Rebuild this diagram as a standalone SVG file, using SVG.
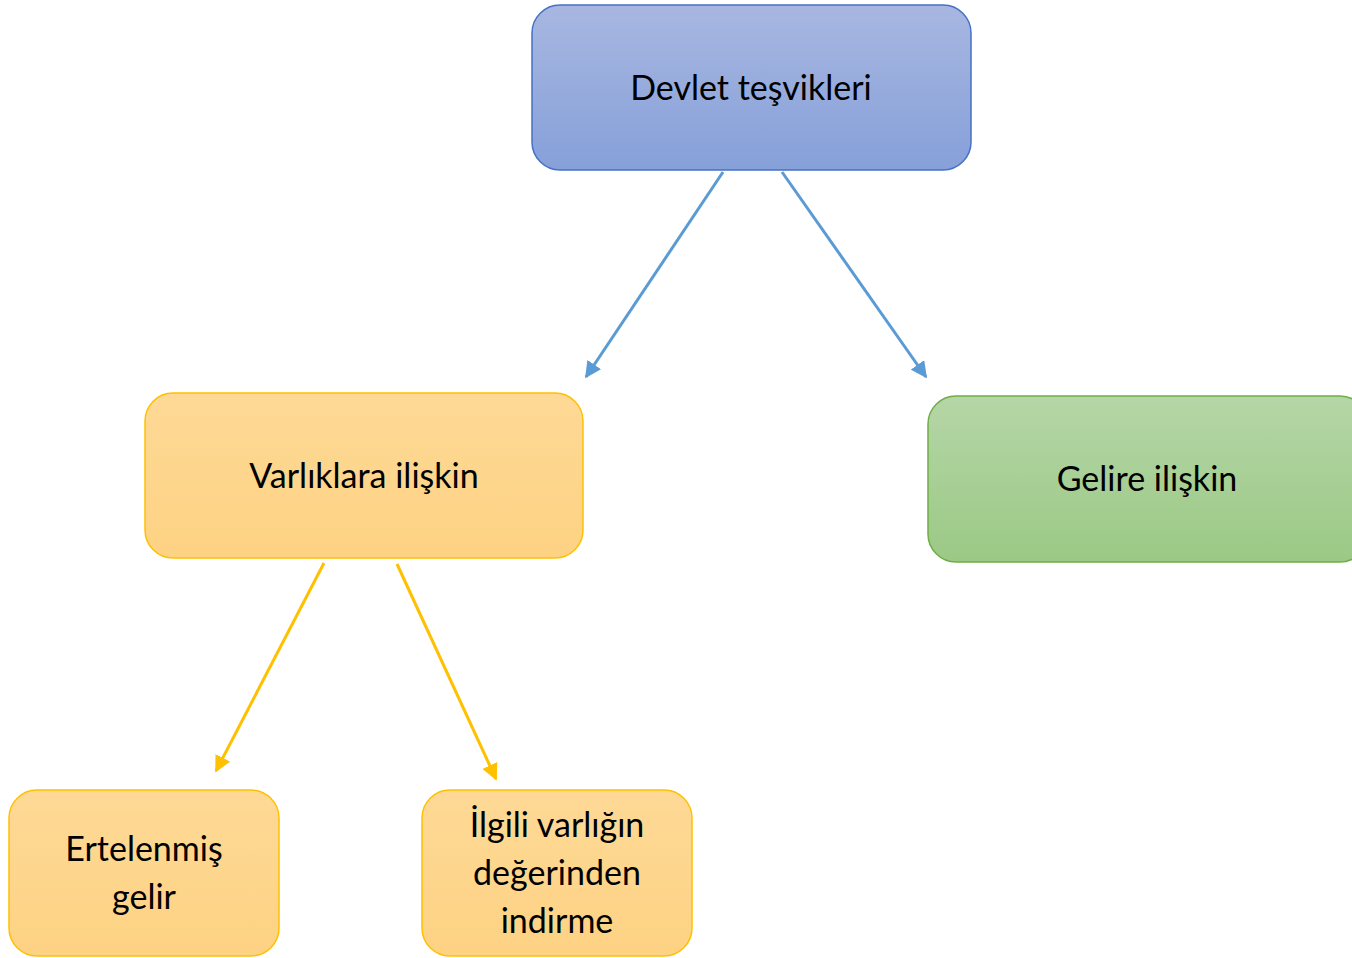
<svg xmlns="http://www.w3.org/2000/svg" width="1352" height="958" viewBox="0 0 1352 958">
<defs>
<linearGradient id="gBlue" x1="0" y1="0" x2="0" y2="1"><stop offset="0" stop-color="#a8b7e1"/><stop offset="1" stop-color="#86a0d9"/></linearGradient>
<linearGradient id="gYel" x1="0" y1="0" x2="0" y2="1"><stop offset="0" stop-color="#fed996"/><stop offset="1" stop-color="#fdd283"/></linearGradient>
<linearGradient id="gGrn" x1="0" y1="0" x2="0" y2="1"><stop offset="0" stop-color="#b5d6a7"/><stop offset="1" stop-color="#9bc985"/></linearGradient>
<marker id="aBlue" viewBox="0 0 10 10" refX="9" refY="5" markerWidth="5.5" markerHeight="5.5" orient="auto" markerUnits="strokeWidth"><path d="M0,0 L10,5 L0,10 z" fill="#5b9bd5"/></marker>
<marker id="aYel" viewBox="0 0 10 10" refX="9" refY="5" markerWidth="5.5" markerHeight="5.5" orient="auto" markerUnits="strokeWidth"><path d="M0,0 L10,5 L0,10 z" fill="#ffc000"/></marker>
</defs>
<style>
.t{font-family:Lato,"Open Sans","Liberation Sans",sans-serif;font-size:34px;fill:#000;text-anchor:middle}
.blue{fill:url(#gBlue);stroke:#4472c4;stroke-width:1.5}
.yel{fill:url(#gYel);stroke:#ffc000;stroke-width:1.5}
.grn{fill:url(#gGrn);stroke:#70ad47;stroke-width:1.5}
.cb{stroke:#5b9bd5;stroke-width:3;fill:none;marker-end:url(#aBlue)}
.cy{stroke:#ffc000;stroke-width:3;fill:none;marker-end:url(#aYel)}
</style>
<g id="connectors">
<line class="cb" x1="723" y1="172" x2="586" y2="377"/>
<line class="cb" x1="782" y1="172" x2="926" y2="377"/>
<line class="cy" x1="324" y1="563" x2="216" y2="771"/>
<line class="cy" x1="397" y1="564" x2="496" y2="779"/>
</g>
<g id="devlet">
<rect class="blue" x="532" y="5" width="439" height="165" rx="28"/>
<text class="t" x="751" y="100">Devlet teşvikleri</text>
</g>
<g id="varliklara">
<rect class="yel" x="145" y="393" width="438" height="165" rx="28"/>
<text class="t" x="364" y="488">Varlıklara ilişkin</text>
</g>
<g id="gelire">
<rect class="grn" x="928" y="396" width="440" height="166" rx="28"/>
<text class="t" x="1147" y="491">Gelire ilişkin</text>
</g>
<g id="ertelenmis">
<rect class="yel" x="9" y="790" width="270" height="166" rx="28"/>
<text class="t" x="144" y="861">Ertelenmiş</text>
<text class="t" x="144" y="909">gelir</text>
</g>
<g id="ilgili">
<rect class="yel" x="422" y="790" width="270" height="166" rx="28"/>
<text class="t" x="557" y="837">İlgili varlığın</text>
<text class="t" x="557" y="885">değerinden</text>
<text class="t" x="557" y="933">indirme</text>
</g>
</svg>
